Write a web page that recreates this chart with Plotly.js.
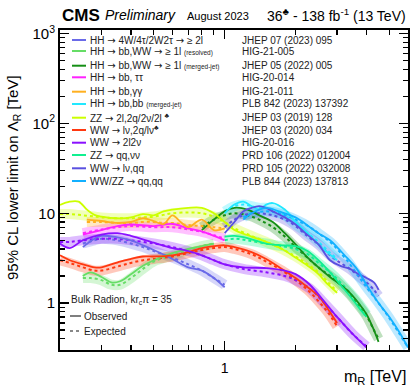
<!DOCTYPE html>
<html><head><meta charset="utf-8">
<script src="https://cdn.plot.ly/plotly-3.0.1.min.js"></script>
<style>html,body{margin:0;padding:0;background:#fff}#c{width:410px;height:390px}</style>
</head><body><div id="c"></div>
<script>
// ---------------- data (masses in TeV, limits on Lambda_R in TeV) ----------------
var m_hh4w = [0.25,0.28,0.3,0.35,0.4,0.45,0.5,0.6,0.7,0.8,0.9,1.0];
var obs_hh4w = [4.2,5.2,5.6,5.4,5.0,4.4,3.9,3.1,2.5,2.3,1.9,1.5];
var exp_hh4w = [4.6,5.0,5.2,5.0,4.6,4.2,3.8,3.2,2.7,2.3,1.9,1.6];

var m_hhbbwwr = [0.25,0.27,0.3,0.33,0.36,0.4,0.45,0.5,0.6,0.7,0.8,0.9];
var obs_hhbbwwr = [2.0,2.2,1.95,1.7,1.75,2.1,2.6,3.0,3.6,4.0,4.3,4.6];
var exp_hhbbwwr = [1.9,1.9,1.8,1.6,1.6,1.9,2.4,2.9,3.4,3.9,4.3,4.6];

var m_hhbbwwm = [0.8,0.9,1.0,1.1,1.25,1.4,1.6,1.8,2.0,2.25,2.5,2.8,3.1,3.4,3.7,4.0,4.3,4.5];
var obs_hhbbwwm = [6.5,8.5,10.5,11.5,11,9.5,8,6,4.5,3.2,2.5,1.95,1.6,1.3,1.0,0.75,0.5,0.37];
var exp_hhbbwwm = [7,8.5,9.5,10,9.5,8.5,7,5.5,4.2,3.2,2.5,2.0,1.6,1.25,0.95,0.72,0.5,0.4];

var m_hhbbtt = [0.25,0.3,0.35,0.4,0.5,0.6,0.7,0.8,0.9,1.0];
var obs_hhbbtt = [5.8,6.5,7.2,7.5,7.2,7.6,6.8,6.3,5.6,5.0];
var exp_hhbbtt = [6.0,6.6,7.0,7.2,7.0,7.0,6.6,6.2,5.7,5.2];

var m_hhbbgg = [0.26,0.3,0.35,0.4,0.45,0.5,0.55,0.6,0.65,0.7,0.8,0.9,1.0];
var obs_hhbbgg = [8.5,8.2,7.8,8.0,8.8,8.2,7.6,9.5,8.0,7.0,8.5,6.5,6.8];
var exp_hhbbgg = [8.0,8.0,7.8,7.8,8.0,8.0,7.8,7.8,7.6,7.4,7.2,7.0,6.8];

var m_hhbbbb = [1.0,1.1,1.2,1.3,1.4,1.5,1.6,1.8,2.0,2.25,2.5,2.75,3.0];
var obs_hhbbbb = [10,12.5,13.5,12,11,12.5,13,11,8,6,4.5,3.6,3.0];
var exp_hhbbbb = [10.5,12,12.5,12,11.5,11.5,11,9.5,7.5,6,4.8,3.8,3.1];

var m_zz2l2q = [0.2,0.22,0.24,0.26,0.28,0.3,0.35,0.4,0.45,0.5,0.55,0.6,0.7,0.8,0.9,1.0,1.1,1.3,1.5,1.75,2.0,2.25,2.5,2.75,3.0];
var obs_zz2l2q = [12.4,13.5,13.5,11,9.6,9.2,8.8,9.0,9.8,9.5,10.5,11.0,11.5,11.5,10,8,6.5,5.5,4.8,4.0,3.2,2.6,2.1,1.6,1.3];
var exp_zz2l2q = [9.8,9.8,9.6,9.4,9.2,9.0,8.8,8.8,9.0,9.2,9.6,10,10.2,10,9.2,8,6.8,5.6,4.8,4.0,3.3,2.7,2.2,1.7,1.35];

var m_wwlv2q = [0.2,0.22,0.25,0.28,0.3,0.36,0.4,0.45,0.5,0.6,0.7,0.8,0.9,1.0,1.1,1.3,1.5,1.75,2.0,2.25,2.5,2.75,3.0];
var obs_wwlv2q = [3.4,3.0,2.7,2.5,2.5,2.9,3.1,3.3,3.3,3.4,3.7,4.1,4.3,4.4,4.2,3.7,3.1,2.4,1.9,1.5,1.2,0.85,0.6];
var exp_wwlv2q = [3.0,2.8,2.5,2.3,2.3,2.6,2.8,3.0,3.1,3.3,3.6,3.9,4.1,4.2,4.0,3.5,2.9,2.3,1.8,1.4,1.05,0.78,0.55];

var m_ww2l2v = [0.2,0.22,0.25,0.3,0.35,0.4,0.5,0.6,0.7,0.8,0.9,1.0,1.2,1.5,1.8,2.0,2.3,2.6,3.0,3.5,4.0];
var obs_ww2l2v = [4.6,4.1,5.0,5.8,6.0,5.6,4.7,4.1,3.8,3.4,3.0,2.7,2.5,2.45,2.3,2.1,1.6,1.1,0.7,0.45,0.32];
var exp_ww2l2v = [4.8,4.8,5.0,5.2,5.2,5.0,4.6,4.2,3.8,3.4,3.0,2.7,2.4,2.2,2.0,1.8,1.45,1.05,0.7,0.45,0.33];

var m_zzqqvv = [1.0,1.1,1.25,1.5,1.75,2.0,2.25,2.5,2.8,3.1,3.4,3.7,4.0];
var obs_zzqqvv = [5.5,5.6,5.3,4.6,4.4,4.3,3.8,3.0,2.2,1.6,1.2,0.9,0.7];
var exp_zzqqvv = [5.0,5.2,5.0,4.6,4.3,4.0,3.5,2.8,2.2,1.7,1.3,1.0,0.75];

var m_wwlvqq = [1.0,1.1,1.2,1.3,1.4,1.5,1.6,1.8,2.0,2.2,2.5,2.8,3.1,3.4,3.7,4.0,4.3,4.5];
var obs_wwlvqq = [6.0,8.0,10.5,11.5,12,11.5,10.5,9.0,7.5,6.0,4.5,3.0,2.6,2.4,2.1,1.9,1.7,1.4];
var exp_wwlvqq = [7.0,8.5,9.5,10,10,9.8,9.5,8.5,7.2,5.8,4.5,3.4,2.8,2.4,2.0,1.7,1.4,1.2];

var m_vvqqqq = [1.2,1.3,1.5,1.7,2.0,2.3,2.5,2.8,3.0,3.3,3.6,4.0,4.5,5.0,5.5,6.0];
var obs_vvqqqq = [8.5,10,11.5,10.5,9.0,7.0,6.0,5.0,4.2,3.2,2.5,1.6,1.0,0.7,0.48,0.32];
var exp_vvqqqq = [9.0,10,10.5,10,8.5,7.0,6.0,4.8,4.0,3.0,2.2,1.5,1.0,0.68,0.46,0.32];

var AR = "<span style='font-family:DejaVu Sans'>\u2192</span>";
var labels = [
  "HH "+AR+" 4W/4\u03c4/2W2\u03c4 "+AR+" \u2265 2l",
  "HH "+AR+" bb,WW "+AR+" \u2265 1l <span style='font-size:6.5px'>(resolved)</span>",
  "HH "+AR+" bb,WW "+AR+" \u2265 1l <span style='font-size:6.5px'>(merged-jet)</span>",
  "HH "+AR+" bb, \u03c4\u03c4",
  "HH "+AR+" bb,\u03b3\u03b3",
  "HH "+AR+" bb,bb <span style='font-size:6.5px'>(merged-jet)</span>",
  "ZZ "+AR+" 2l,2q/2\u03bd/2l <sup>\u2663</sup>",
  "WW "+AR+" l\u03bd,2q/l\u03bd<sup>\u2663</sup>",
  "WW "+AR+" 2l2\u03bd",
  "ZZ "+AR+" qq,\u03bd\u03bd",
  "WW "+AR+" l\u03bd,qq",
  "WW/ZZ "+AR+" qq,qq"
];
var refs = ["JHEP 07 (2023) 095","HIG-21-005","JHEP 05 (2022) 005","HIG-20-014","HIG-21-011",
  "PLB 842 (2023) 137392","JHEP 03 (2019) 128","JHEP 03 (2020) 034","HIG-20-016",
  "PRD 106 (2022) 012004","PRD 105 (2022) 032008","PLB 844 (2023) 137813"];
var colors = ["#6a6ae8","#66dd66","#158f15","#ff22ff","#ffb020","#22e8ff",
  "#ccff00","#ff3810","#8a10ff","#10f090","#5a50e0","#12b0ff"];

var series = [
  [m_hh4w,obs_hh4w,exp_hh4w],[m_hhbbwwr,obs_hhbbwwr,exp_hhbbwwr],[m_hhbbwwm,obs_hhbbwwm,exp_hhbbwwm],
  [m_hhbbtt,obs_hhbbtt,exp_hhbbtt],[m_hhbbgg,obs_hhbbgg,exp_hhbbgg],[m_hhbbbb,obs_hhbbbb,exp_hhbbbb],
  [m_zz2l2q,obs_zz2l2q,exp_zz2l2q],[m_wwlv2q,obs_wwlv2q,exp_wwlv2q],[m_ww2l2v,obs_ww2l2v,exp_ww2l2v],
  [m_zzqqvv,obs_zzqqvv,exp_zzqqvv],[m_wwlvqq,obs_wwlvqq,exp_wwlvqq],[m_vvqqqq,obs_vvqqqq,exp_vvqqqq]
];

// ---------------- layout helpers ----------------
var L=60, R=408, T=30, B=350;
function px(x){return (x-L)/(R-L);}
function py(y){return (B-y)/(B-T);}
function rgba(hex,a){var n=parseInt(hex.slice(1),16);return 'rgba('+(n>>16&255)+','+(n>>8&255)+','+(n&255)+','+a+')';}

var traces=[];
series.forEach(function(s,i){
  traces.push({x:s[0],y:s[2],mode:'lines',line:{color:rgba(colors[i],0.28),width:10,shape:'spline'},hoverinfo:'skip',showlegend:false});
});
series.forEach(function(s,i){
  traces.push({x:s[0],y:s[2],mode:'lines',line:{color:colors[i],width:2,dash:'dot',shape:'spline'},showlegend:false});
});
series.forEach(function(s,i){
  traces.push({x:s[0],y:s[1],mode:'lines',line:{color:colors[i],width:1.8,shape:'spline'},showlegend:false});
});

var rowY=[40,51,65.7,77.3,91.7,104,117.7,130,142.7,155,168.3,181];
var shapes=[], ann=[];
var font='Liberation Sans, Arial, Helvetica, sans-serif';
labels.forEach(function(t,i){
  shapes.push({type:'line',xref:'paper',yref:'paper',x0:px(72),x1:px(86),y0:py(rowY[i]),y1:py(rowY[i]),line:{color:colors[i],width:2}});
  ann.push({xref:'paper',yref:'paper',x:px(88),y:py(rowY[i]),xanchor:'left',yanchor:'middle',showarrow:false,text:t,font:{family:font,size:10,color:'#222'}});
  ann.push({xref:'paper',yref:'paper',x:px(240),y:py(rowY[i]),xanchor:'left',yanchor:'middle',showarrow:false,text:refs[i],font:{family:font,size:10,color:'#222'}});
});
// observed / expected key
shapes.push({type:'line',xref:'paper',yref:'paper',x0:px(70),x1:px(81),y0:py(316),y1:py(316),line:{color:'#555',width:1.5}});
shapes.push({type:'line',xref:'paper',yref:'paper',x0:px(70),x1:px(81),y0:py(331),y1:py(331),line:{color:'#888',width:2,dash:'dot'}});
ann.push({xref:'paper',yref:'paper',x:px(69),y:py(300),xanchor:'left',yanchor:'middle',showarrow:false,text:'Bulk Radion, kr<sub>c</sub>\u03c0 = 35',font:{family:font,size:10,color:'#222'}});
ann.push({xref:'paper',yref:'paper',x:px(82),y:py(316),xanchor:'left',yanchor:'middle',showarrow:false,text:'Observed',font:{family:font,size:10,color:'#222'}});
ann.push({xref:'paper',yref:'paper',x:px(82),y:py(331),xanchor:'left',yanchor:'middle',showarrow:false,text:'Expected',font:{family:font,size:10,color:'#222'}});
// header
ann.push({xref:'paper',yref:'paper',x:px(60),y:py(15),xanchor:'left',yanchor:'middle',showarrow:false,text:'<b>CMS</b>',font:{family:font,size:17,color:'#000'}});
ann.push({xref:'paper',yref:'paper',x:px(103),y:py(15),xanchor:'left',yanchor:'middle',showarrow:false,text:'<i>Preliminary</i>',font:{family:font,size:14,color:'#000'}});
ann.push({xref:'paper',yref:'paper',x:px(185),y:py(16),xanchor:'left',yanchor:'middle',showarrow:false,text:'August 2023',font:{family:font,size:11,color:'#000'}});
ann.push({xref:'paper',yref:'paper',x:1,y:py(15),xanchor:'right',yanchor:'middle',showarrow:false,text:'36<sup>\u2663</sup> - 138 fb<sup>-1</sup> (13 TeV)',font:{family:font,size:14,color:'#000'}});
// axis titles
ann.push({xref:'paper',yref:'paper',x:1,y:py(377),xanchor:'right',yanchor:'middle',showarrow:false,text:'m<sub>R</sub> [TeV]',font:{family:font,size:16,color:'#000'}});
ann.push({xref:'paper',yref:'paper',x:px(13),y:py(178),xanchor:'center',yanchor:'middle',textangle:-90,showarrow:false,text:'95% CL lower limit on \u039b<sub>R</sub> [TeV]',font:{family:font,size:15,color:'#000'}});

var layout={
  width:410,height:390,margin:{l:60,r:2,t:30,b:40},
  paper_bgcolor:'#fff',plot_bgcolor:'#fff',showlegend:false,
  xaxis:{type:'log',range:[Math.log10(0.2),Math.log10(6)],showline:true,linecolor:'#000',linewidth:2,mirror:'ticks',
    ticks:'inside',ticklen:9,tickwidth:1.5,tickcolor:'#000',tickvals:[1],ticktext:['1'],ticklabelstandoff:4,
    tickfont:{family:font,size:14,color:'#000'},showgrid:false,zeroline:false,
    minor:{tickvals:[0.3,0.4,0.5,0.6,0.7,0.8,0.9,2,3,4,5],ticks:'inside',ticklen:5,tickwidth:1.2,tickcolor:'#000',showgrid:false}},
  yaxis:{type:'log',range:[Math.log10(0.3),Math.log10(1100)],showline:true,linecolor:'#000',linewidth:2,mirror:'ticks',
    ticks:'inside',ticklen:9,tickwidth:1.5,tickcolor:'#000',tickvals:[1,10,100,1000],ticktext:['1','10','10<sup>2</sup>','10<sup>3</sup>'],
    tickfont:{family:font,size:15,color:'#000'},showgrid:false,zeroline:false,
    minor:{tickvals:[0.3,0.4,0.5,0.6,0.7,0.8,0.9,2,3,4,5,6,7,8,9,20,30,40,50,60,70,80,90,200,300,400,500,600,700,800,900],ticks:'inside',ticklen:5,tickwidth:1.2,tickcolor:'#000',showgrid:false}},
  shapes:shapes,annotations:ann
};
Plotly.newPlot('c',traces,layout,{staticPlot:true,displayModeBar:false});
</script></body></html>
